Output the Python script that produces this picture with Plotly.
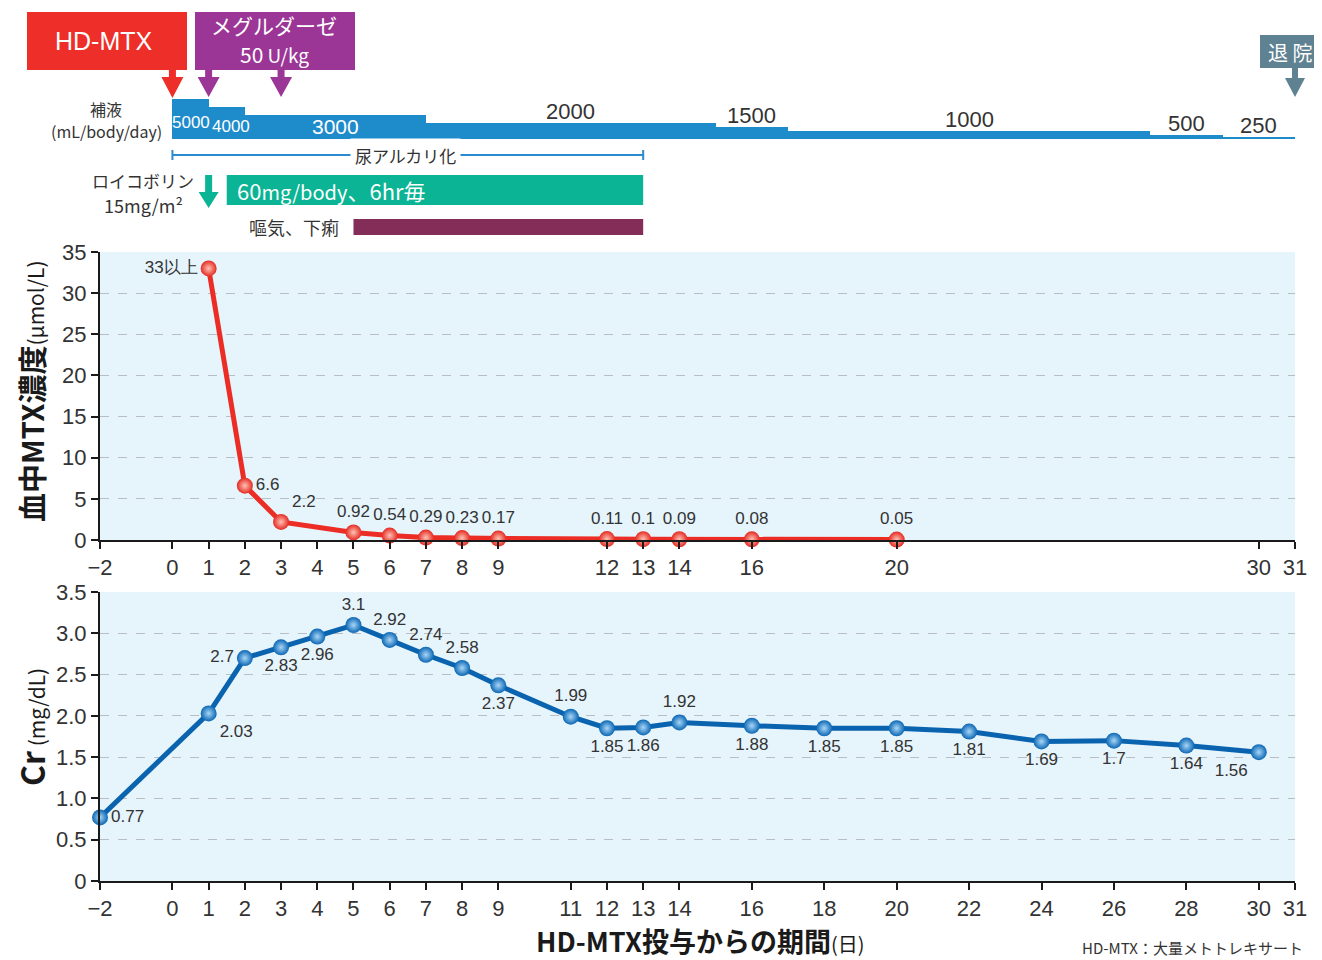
import plotly.graph_objects as go

OFF = 8                      # page body margin of the written html
W, H = 1322 - OFF, 960 - OFF
ML = 100 - OFF
MR = W - (1295 - OFF)

# ---------------- data ----------------
mtx_days = [1, 2, 3, 5, 6, 7, 8, 9, 12, 13, 14, 16, 20]
mtx_vals = [33, 6.6, 2.2, 0.92, 0.54, 0.29, 0.23, 0.17, 0.11, 0.1, 0.09, 0.08, 0.05]
mtx_text = ["33以上", "6.6", "2.2", "0.92", "0.54", "0.29", "0.23", "0.17",
            "0.11", "0.1", "0.09", "0.08", "0.05"]

cr_days = [-2, 1, 2, 3, 4, 5, 6, 7, 8, 9, 11, 12, 13, 14, 16, 18, 20, 22, 24, 26, 28, 30]
cr_vals = [0.77, 2.03, 2.7, 2.83, 2.96, 3.1, 2.92, 2.74, 2.58, 2.37, 1.99, 1.85, 1.86,
           1.92, 1.88, 1.85, 1.85, 1.81, 1.69, 1.7, 1.64, 1.56]
cr_text = ["0.77", "2.03", "2.7", "2.83", "2.96", "3.1", "2.92", "2.74", "2.58", "2.37",
           "1.99", "1.85", "1.86", "1.92", "1.88", "1.85", "1.85", "1.81", "1.69", "1.7",
           "1.64", "1.56"]

fluid_start = [0, 1, 2, 7, 15, 17, 27, 29]
fluid_end = [1, 2, 7, 15, 17, 27, 29, 31]
fluid_rate = [5000, 4000, 3000, 2000, 1500, 1000, 500, 250]

mtx_xticks = [-2, 0, 1, 2, 3, 4, 5, 6, 7, 8, 9, 12, 13, 14, 16, 20, 30, 31]
cr_xticks = [-2, 0, 1, 2, 3, 4, 5, 6, 7, 8, 9, 11, 12, 13, 14, 16, 18, 20, 22, 24, 26, 28, 30, 31]
mtx_yticks = [0, 5, 10, 15, 20, 25, 30, 35]
cr_yticks = [0, 0.5, 1.0, 1.5, 2.0, 2.5, 3.0, 3.5]
cr_yticktext = ["0", "0.5", "1.0", "1.5", "2.0", "2.5", "3.0", "3.5"]

hdmtx_day = 0
glucarpidase_days = [1, 3]
discharge_day = 31
alkal_start, alkal_end = 0, 13
leuco_bolus_day = 1
leuco_start, leuco_end = 1.5, 13
nausea_start, nausea_end = 5, 13
x_range = [-2, 31]

# ---------------- helpers (screen pixels -> paper) ----------------
PW = W - ML - MR


def px(x):
    return (x - OFF - ML) / PW


def py(y):
    return 1 - (y - OFF) / H


def dpx(day):
    return (day - x_range[0]) / (x_range[1] - x_range[0])


def dayw(pix):
    return pix / PW


JP = "Noto Sans CJK JP, Noto Sans, sans-serif"
LAT = "Liberation Sans, Arial, sans-serif"
NUM = "Liberation Sans Narrow, Liberation Sans, Arial, sans-serif"
TXT = "#333333"

fig = go.Figure()

# ---------------- traces ----------------
fig.add_trace(go.Bar(
    x=[(s + e) / 2 for s, e in zip(fluid_start, fluid_end)],
    width=[e - s for s, e in zip(fluid_start, fluid_end)],
    y=fluid_rate, marker=dict(color="#1e8bcb", line=dict(width=0)),
    xaxis="x3", yaxis="y3", hoverinfo="skip", showlegend=False))

mtx_pos = ["middle left", "middle right", "top right"] + ["top center"] * 10
fig.add_trace(go.Scatter(
    x=mtx_days, y=mtx_vals, mode="lines+markers+text", text=mtx_text,
    textposition=mtx_pos, textfont=dict(family=NUM, size=17, color=TXT),
    line=dict(color="#ec2d25", width=5),
    marker=dict(size=16, color="#e52a22", line=dict(width=0),
                gradient=dict(type="radial", color="#ffc2b4")),
    xaxis="x", yaxis="y", cliponaxis=False, showlegend=False))

cr_pos = ["middle right", "bottom right", "middle left", "bottom center", "bottom center",
          "top center", "top center", "top center", "top center", "bottom center",
          "top center", "bottom center", "bottom center", "top center", "bottom center",
          "bottom center", "bottom center", "bottom center", "bottom center",
          "bottom center", "bottom center", "bottom left"]
fig.add_trace(go.Scatter(
    x=cr_days, y=cr_vals, mode="lines+markers+text", text=cr_text,
    textposition=cr_pos, textfont=dict(family=NUM, size=17, color=TXT),
    line=dict(color="#0a63ae", width=5),
    marker=dict(size=16, color="#0b67b4", line=dict(width=0),
                gradient=dict(type="radial", color="#a8d6f7")),
    xaxis="x2", yaxis="y2", cliponaxis=False, showlegend=False))

# ---------------- axes ----------------
axis_common = dict(showline=True, linecolor="#1a1a1a", linewidth=2, ticks="outside",
                   ticklen=7, tickwidth=1.5, tickcolor="#1a1a1a", zeroline=False,
                   tickfont=dict(family=NUM, size=22, color=TXT), automargin=False)

fig.update_layout(
    xaxis=dict(range=x_range, domain=[0, 1], anchor="y", tickmode="array",
               tickvals=mtx_xticks, ticktext=[("−2" if t == -2 else str(t)) for t in mtx_xticks],
               showgrid=False, **axis_common),
    yaxis=dict(range=[0, 35], domain=[py(540), py(252)], anchor="x", tickmode="array",
               tickvals=mtx_yticks, showgrid=True, gridcolor="#b9bec6", griddash="dash",
               gridwidth=1, **axis_common),
    xaxis2=dict(range=x_range, domain=[0, 1], anchor="y2", tickmode="array",
                tickvals=cr_xticks, ticktext=[("−2" if t == -2 else str(t)) for t in cr_xticks],
                showgrid=False, **axis_common),
    yaxis2=dict(range=[0, 3.5], domain=[py(881), py(592)], anchor="x2", tickmode="array",
                tickvals=cr_yticks, ticktext=cr_yticktext, showgrid=True, gridcolor="#b9bec6",
                griddash="dash", gridwidth=1, **axis_common),
    xaxis3=dict(range=x_range, domain=[0, 1], anchor="y3", visible=False),
    yaxis3=dict(range=[0, 5000], domain=[py(139), py(98.5)], anchor="x3", visible=False),
    width=W, height=H, template="none",
    margin=dict(l=ML, r=MR, t=0, b=0, autoexpand=False),
    paper_bgcolor="white", plot_bgcolor="rgba(0,0,0,0)",
    bargap=0,
)

shapes = []
ann = []


def note(x, y, text, size, color=TXT, family=JP, xanchor="center", yanchor="middle", **kw):
    d = dict(xref="paper", yref="paper", x=x, y=y, text=text, showarrow=False,
             xanchor=xanchor, yanchor=yanchor, font=dict(family=family, size=size, color=color))
    d.update(kw)
    ann.append(d)


# plot backgrounds
for xr, yr in [("x domain", "y domain"), ("x2 domain", "y2 domain")]:
    shapes.append(dict(type="rect", xref=xr, yref=yr, x0=0, x1=1, y0=0, y1=1,
                       fillcolor="#e6f4fc", line=dict(width=0), layer="below"))


def arrow(day, y_top, y_neck, y_tip, color, shaft=7, head=22):
    xc = dpx(day)
    sw, hw = dayw(shaft / 2), dayw(head / 2)
    t, n, p = py(y_top), py(y_neck), py(y_tip)
    path = (f"M{xc - sw},{t} L{xc + sw},{t} L{xc + sw},{n} L{xc + hw},{n} "
            f"L{xc},{p} L{xc - hw},{n} L{xc - sw},{n} Z")
    return dict(type="path", xref="paper", yref="paper", path=path,
                fillcolor=color, line=dict(width=0))


# HD-MTX box
shapes.append(dict(type="rect", xref="paper", yref="paper", x0=px(27), x1=px(187),
                   y0=py(70), y1=py(12), fillcolor="#ee2e28", line=dict(width=0)))
note(px(104), py(41), "HD-MTX", 25, color="white", family=LAT)
shapes.append(arrow(hdmtx_day, 70, 77, 98, "#ee2e28"))

# Glucarpidase box
shapes.append(dict(type="rect", xref="paper", yref="paper", x0=px(195), x1=px(355),
                   y0=py(70), y1=py(12), fillcolor="#9b3596", line=dict(width=0)))
note(px(274), py(25), "メグルダーゼ", 21, color="white")
note(px(274), py(54), "50<span style='font-size:19px'> U/kg</span>", 21, color="white")
for d in glucarpidase_days:
    shapes.append(arrow(d, 70, 77, 97, "#9b3596"))

# Discharge
shapes.append(dict(type="rect", xref="paper", yref="paper", x0=px(1260), x1=px(1326),
                   y0=py(68), y1=py(35), fillcolor="#5f8292", line=dict(width=0)))
note(px(1290), py(52), "退 院", 20, color="white")
shapes.append(arrow(discharge_day, 68, 78, 97, "#5f8292", shaft=6, head=20))

# Fluid label and values
note(px(106), py(109), "補液", 16)
note(px(106), py(131), "(mL/body/day)", 16)
inside_cfg = {5000: (5, 0, 17), 4000: (1, 4, 17), 3000: (-1, 0, 21)}
for s, e, r in zip(fluid_start, fluid_end, fluid_rate):
    if r in inside_cfg:
        ys, xs, fs = inside_cfg[r]
        ann.append(dict(xref="x3", yref="y3", x=(s + e) / 2, y=0, yanchor="bottom",
                        xanchor="center", yshift=ys, xshift=xs, text=str(r), showarrow=False,
                        font=dict(family=LAT, size=fs, color="white")))
    else:
        ann.append(dict(xref="x3", yref="y3", x=(s + e) / 2, y=r, yanchor="bottom",
                        xanchor="center", yshift=-3, text=str(r), showarrow=False,
                        font=dict(family=LAT, size=22, color=TXT)))

# Urine alkalinization
for x0, x1, y0, y1 in [(alkal_start, alkal_end, 155, 155), (alkal_start, alkal_start, 150, 160),
                       (alkal_end, alkal_end, 150, 160)]:
    shapes.append(dict(type="line", xref="x", yref="paper", x0=x0, x1=x1, y0=py(y0), y1=py(y1),
                       line=dict(color="#2a8bd0", width=2)))
ann.append(dict(xref="x", yref="paper", x=6.45, y=py(155), text="尿アルカリ化",
                xanchor="center", yanchor="middle",
                showarrow=False, bgcolor="white", borderpad=4,
                font=dict(family=JP, size=17, color=TXT)))

# Leucovorin
note(px(143), py(180), "ロイコボリン", 17)
note(px(143), py(205), "15mg/m²", 18)
shapes.append(arrow(leuco_bolus_day, 175, 192, 208, "#0bb494", shaft=7, head=20))
shapes.append(dict(type="rect", xref="x", yref="paper", x0=leuco_start, x1=leuco_end,
                   y0=py(205), y1=py(175), fillcolor="#0bb494", line=dict(width=0)))
ann.append(dict(xref="x", yref="paper", x=leuco_start, xanchor="left", xshift=8, y=py(190),
                yanchor="middle",
                text="60<span style='font-size:20px'>mg/body</span>、6hr毎", showarrow=False,
                font=dict(family=JP, size=22, color="white")))

# Nausea / diarrhea
shapes.append(dict(type="rect", xref="x", yref="paper", x0=nausea_start, x1=nausea_end,
                   y0=py(235), y1=py(219), fillcolor="#842d58", line=dict(width=0)))
ann.append(dict(xref="x", yref="paper", x=nausea_start, xanchor="right", xshift=-12,
                y=py(227), yanchor="middle", text="嘔気、下痢", showarrow=False,
                font=dict(family=JP, size=18, color=TXT)))

# axis titles
note(px(31), py(391), "<b>血中MTX濃度</b><span style='font-size:21px'>(μmol/L)</span>", 29,
     color="#1a1a1a", textangle=-90)
note(px(31), py(727), "<b>Cr</b><span style='font-size:21px'> (mg/dL)</span>", 32,
     color="#1a1a1a", textangle=-90)
note(px(700), py(940), "<b>HD-MTX投与からの期間</b><span style='font-size:20px'>(日)</span>", 27,
     color="#1a1a1a")
note(px(1305), py(947), "HD-MTX：大量メトトレキサート", 15, xanchor="right")

fig.update_layout(shapes=shapes, annotations=ann)
fig.write_html("out.html")
